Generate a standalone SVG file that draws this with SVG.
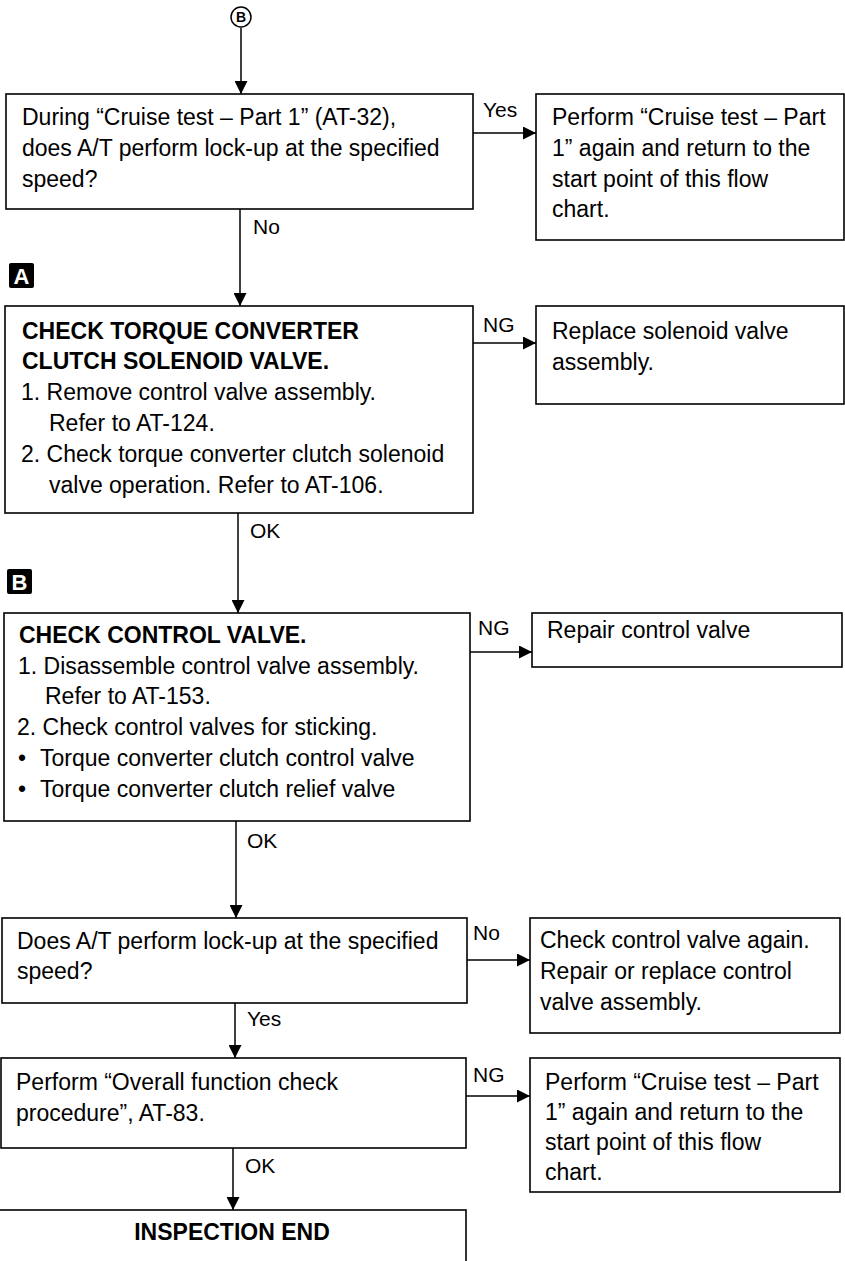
<svg xmlns="http://www.w3.org/2000/svg" width="845" height="1261" viewBox="0 0 845 1261">
<style>
.bg{fill:#fff}
.box{fill:none;stroke:#000;stroke-width:1.6}
.t{font-family:"Liberation Sans",Arial,sans-serif;font-size:23px;fill:#000}
.b{font-weight:bold}
.lbl{font-family:"Liberation Sans",Arial,sans-serif;font-size:21px;fill:#000}
.conn{stroke:#000;stroke-width:1.5;fill:none;marker-end:url(#arr)}
.mk{fill:#000}
.mkt{font-family:"Liberation Sans",Arial,sans-serif;font-size:22px;font-weight:bold;fill:#fff;text-anchor:middle}
</style>
<defs>
<marker id="arr" markerUnits="userSpaceOnUse" viewBox="0 0 13 13" markerWidth="13" markerHeight="13" refX="13" refY="6.5" orient="auto">
<path d="M0,0 L13,6.5 L0,13 z" fill="#000"/>
</marker>
</defs>
<rect class="bg" x="0" y="0" width="845" height="1261"/>

<g id="start">
<circle cx="241" cy="17" r="10" fill="none" stroke="#000" stroke-width="1.5"/>
<text x="241" y="22" font-family="Liberation Sans,Arial,sans-serif" font-size="14" font-weight="bold" text-anchor="middle">B</text>
</g>

<g id="q1">
<rect class="box" x="6" y="94" width="467" height="115"/>
<text class="t" x="22" y="125">During “Cruise test – Part 1” (AT-32),</text>
<text class="t" x="22" y="156">does A/T perform lock-up at the specified</text>
<text class="t" x="22" y="187">speed?</text>
</g>

<g id="r1">
<rect class="box" x="536" y="94" width="308" height="146"/>
<text class="t" x="552" y="125">Perform “Cruise test – Part</text>
<text class="t" x="552" y="156">1” again and return to the</text>
<text class="t" x="552" y="187">start point of this flow</text>
<text class="t" x="552" y="217">chart.</text>
</g>

<g id="markA">
<rect class="mk" x="9" y="263" width="25" height="25" rx="2"/>
<text class="mkt" x="21.5" y="284">A</text>
</g>

<g id="s2">
<rect class="box" x="5" y="306" width="468" height="207"/>
<text class="t b" x="22" y="339">CHECK TORQUE CONVERTER</text>
<text class="t b" x="22" y="369">CLUTCH SOLENOID VALVE.</text>
<text class="t" x="21" y="400">1. Remove control valve assembly.</text>
<text class="t" x="49" y="431">Refer to AT-124.</text>
<text class="t" x="21" y="462">2. Check torque converter clutch solenoid</text>
<text class="t" x="49" y="493">valve operation. Refer to AT-106.</text>
</g>

<g id="r2">
<rect class="box" x="536" y="306" width="308" height="98"/>
<text class="t" x="552" y="339">Replace solenoid valve</text>
<text class="t" x="552" y="370">assembly.</text>
</g>

<g id="markB">
<rect class="mk" x="7" y="569" width="25" height="25" rx="2"/>
<text class="mkt" x="19.5" y="590">B</text>
</g>

<g id="s3">
<rect class="box" x="4" y="613" width="466" height="208"/>
<text class="t b" x="19" y="643">CHECK CONTROL VALVE.</text>
<text class="t" x="18" y="674">1. Disassemble control valve assembly.</text>
<text class="t" x="45" y="704">Refer to AT-153.</text>
<text class="t" x="17" y="735">2. Check control valves for sticking.</text>
<text class="t" x="18" y="766">•</text>
<text class="t" x="40" y="766">Torque converter clutch control valve</text>
<text class="t" x="18" y="797">•</text>
<text class="t" x="40" y="797">Torque converter clutch relief valve</text>
</g>

<g id="r3">
<rect class="box" x="532" y="613" width="310" height="54"/>
<text class="t" x="547" y="638">Repair control valve</text>
</g>

<g id="q4">
<rect class="box" x="2" y="918" width="465" height="85"/>
<text class="t" x="17" y="949">Does A/T perform lock-up at the specified</text>
<text class="t" x="17" y="979">speed?</text>
</g>

<g id="r4">
<rect class="box" x="530" y="918" width="310" height="115"/>
<text class="t" x="540" y="948">Check control valve again.</text>
<text class="t" x="540" y="979">Repair or replace control</text>
<text class="t" x="540" y="1010">valve assembly.</text>
</g>

<g id="s5">
<rect class="box" x="1" y="1058" width="465" height="90"/>
<text class="t" x="16" y="1090">Perform “Overall function check</text>
<text class="t" x="16" y="1121">procedure”, AT-83.</text>
</g>

<g id="r5">
<rect class="box" x="530" y="1058" width="310" height="134"/>
<text class="t" x="545" y="1090">Perform “Cruise test – Part</text>
<text class="t" x="545" y="1120">1” again and return to the</text>
<text class="t" x="545" y="1150">start point of this flow</text>
<text class="t" x="545" y="1180">chart.</text>
</g>

<g id="end">
<rect class="box" x="-2" y="1210" width="468" height="70"/>
<text class="t b" x="232" y="1240" text-anchor="middle">INSPECTION END</text>
</g>

<g id="connectors">
<path class="conn" d="M241,28 V94"/>
<path class="conn" d="M473,133 H536"/>
<path class="conn" d="M240,209 V306"/>
<path class="conn" d="M473,343 H536"/>
<path class="conn" d="M238,513 V613"/>
<path class="conn" d="M470,652 H532"/>
<path class="conn" d="M236,821 V918"/>
<path class="conn" d="M467,960 H530"/>
<path class="conn" d="M235,1003 V1058"/>
<path class="conn" d="M466,1096 H530"/>
<path class="conn" d="M233,1148 V1210"/>
<text class="lbl" x="483" y="117">Yes</text>
<text class="lbl" x="253" y="234">No</text>
<text class="lbl" x="483" y="332">NG</text>
<text class="lbl" x="250" y="538">OK</text>
<text class="lbl" x="478" y="635">NG</text>
<text class="lbl" x="247" y="848">OK</text>
<text class="lbl" x="473" y="940">No</text>
<text class="lbl" x="247" y="1026">Yes</text>
<text class="lbl" x="473" y="1082">NG</text>
<text class="lbl" x="245" y="1173">OK</text>
</g>
</svg>
